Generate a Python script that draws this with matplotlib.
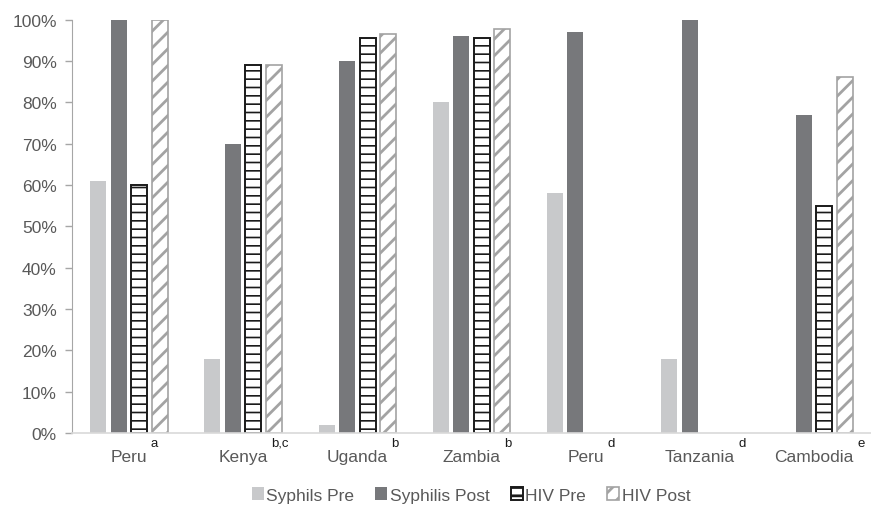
import numpy as np
import matplotlib
matplotlib.use("Agg")
import matplotlib.pyplot as plt
from matplotlib.ticker import PercentFormatter

plt.rcParams['font.family'] = ['Liberation Sans', 'DejaVu Sans']

# data (None = no bar)
countries = ['Peru', 'Kenya', 'Uganda', 'Zambia', 'Peru', 'Tanzania', 'Cambodia']
notes = ['a', 'b,c', 'b', 'b', 'd', 'd', 'e']
syph_pre = [0.61, 0.18, 0.02, 0.80, 0.58, 0.18, None]
syph_post = [1.00, 0.70, 0.90, 0.96, 0.97, 1.00, 0.77]
hiv_pre = [0.60, 0.89, 0.955, 0.955, None, None, 0.55]
hiv_post = [1.00, 0.89, 0.965, 0.977, None, None, 0.86]

def arr(v):
    return np.array([np.nan if x is None else x for x in v], dtype=float)

fig = plt.figure(figsize=(8.71, 5.06), dpi=100)
ax = fig.add_axes([72/871, 1 - 434/506, 799/871, (434 - 20.5)/506])

x = np.arange(len(countries))
w = 0.14
step = 0.18

series = [
    ('Syphils Pre', syph_pre, dict(color='#c8c9cb')),
    ('Syphilis Post', syph_post, dict(color='#77787b')),
    ('HIV Pre', hiv_pre, dict(facecolor='white', edgecolor='#1a1a1a', hatch='--', linewidth=1.4)),
    ('HIV Post', hiv_post, dict(facecolor='white', edgecolor='#a3a3a3', hatch='//', linewidth=1.2)),
]
hatch_lw = {'HIV Pre': 1.2, 'HIV Post': 2.0}

handles = []
for k, (name, vals, style) in enumerate(series):
    plt.rcParams['hatch.linewidth'] = hatch_lw.get(name, 1.0)
    bars = ax.bar(x + (k - 1.5) * step, arr(vals), width=w, label=name, zorder=2, **style)
    for b in bars:
        if hasattr(b, 'set_hatch_linewidth') and name in hatch_lw:
            b.set_hatch_linewidth(hatch_lw[name])
    handles.append(bars)

ax.set_xlim(-0.5, len(countries) - 0.5)
ax.set_ylim(0, 1)
ax.set_yticks(np.arange(0, 1.01, 0.1))
ax.yaxis.set_major_formatter(PercentFormatter(1.0, decimals=0))
ax.tick_params(axis='y', colors='#a6a6a6', labelcolor='#595959', labelsize=12.5, length=5, width=1, pad=6)
ax.set_xticks([])

for s in ['top', 'right']:
    ax.spines[s].set_visible(False)
ax.spines['left'].set_color('#a6a6a6')
ax.spines['bottom'].set_color('#d9d9d9')
ax.spines['bottom'].set_linewidth(1.2)

# category labels with superscript notes
for i, (c, n) in enumerate(zip(countries, notes)):
    t = ax.annotate(c, xy=(i, 0), xycoords=('data', 'axes fraction'),
                    xytext=(0, -20.5), textcoords='offset points',
                    ha='center', va='baseline', fontsize=12.5, color='#595959')
    ax.annotate(n, xy=(1, 1), xycoords=t, xytext=(2.5, 2.5), textcoords='offset points',
                ha='left', va='baseline', fontsize=9.5, color='#1a1a1a')

fig.legend(handles=handles, loc='center', bbox_to_anchor=(471/871, 1 - 496/506),
           ncol=4, frameon=False, fontsize=12.5, labelcolor='#595959',
           handlelength=0.7, handleheight=0.7, handletextpad=0.15, columnspacing=1.2)

fig.savefig('out.png', dpi=100)
